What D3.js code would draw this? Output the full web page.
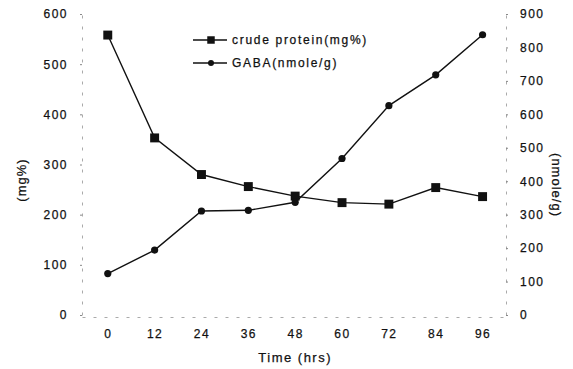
<!DOCTYPE html>
<html>
<head>
<meta charset="utf-8">
<script src="https://cdn.jsdelivr.net/npm/d3@7"></script>
<style>
  body { margin: 0; background: #fff; }
  text { font-family: "Liberation Sans", Arial, sans-serif; fill: #111; stroke: #111; stroke-width: 0.25px; }
</style>
</head>
<body>
<div id="chart"></div>
<script>
// data
const hours = [0, 12, 24, 36, 48, 60, 72, 84, 96];
const crudeProtein = [558, 353, 280, 256, 237, 224, 221, 254, 236]; // mg%
const gaba = [124, 194, 311, 313, 337, 468, 626, 718, 838];          // nmole/g
const leftTicks = [0, 100, 200, 300, 400, 500, 600];
const rightTicks = [0, 100, 200, 300, 400, 500, 600, 700, 800, 900];

const width = 573, height = 369;
const margin = { top: 14, right: 67, bottom: 54, left: 82 };

const svg = d3.select('#chart').append('svg')
  .attr('width', width)
  .attr('height', height);

const x = d3.scaleLinear().domain([-6.6, 102]).range([margin.left, width - margin.right]);
const yL = d3.scaleLinear().domain([0, 600]).range([height - margin.bottom, margin.top]);
const yR = d3.scaleLinear().domain([0, 900]).range([height - margin.bottom, margin.top]);

// faded axis lines, like the scan
const axisStyle = g => g.select('.domain').attr('stroke', '#aaa').attr('stroke-dasharray', '3,8');

svg.append('g')
  .attr('transform', `translate(${margin.left},0)`)
  .call(d3.axisLeft(yL).tickValues(leftTicks).tickSize(2).tickPadding(12).tickSizeOuter(0))
  .call(axisStyle)
  .call(g => g.selectAll('.tick line').attr('stroke', '#888'))
  .call(g => g.selectAll('.tick text').attr('font-size', 12).attr('letter-spacing', '1.5px'));

svg.append('g')
  .attr('transform', `translate(${width - margin.right},0)`)
  .call(d3.axisRight(yR).tickValues(rightTicks).tickSize(2).tickPadding(12).tickSizeOuter(0))
  .call(axisStyle)
  .call(g => g.selectAll('.tick line').attr('stroke', '#888'))
  .call(g => g.selectAll('.tick text').attr('font-size', 12).attr('letter-spacing', '1.5px'));

svg.append('g')
  .attr('transform', `translate(0,${height - margin.bottom + 2})`)
  .call(d3.axisBottom(x).tickValues(hours).tickSize(0).tickPadding(12).tickSizeOuter(0))
  .call(axisStyle)
  .call(g => g.selectAll('.tick text').attr('font-size', 12).attr('letter-spacing', '1.5px'));

// axis titles
svg.append('text')
  .attr('transform', `translate(26,180) rotate(-90)`)
  .attr('text-anchor', 'middle')
  .attr('font-size', 13)
  .attr('letter-spacing', '1px')
  .text('(mg%)');

svg.append('text')
  .attr('transform', `translate(552,185) rotate(90)`)
  .attr('text-anchor', 'middle')
  .attr('font-size', 13)
  .attr('letter-spacing', '1px')
  .text('(nmole/g)');

svg.append('text')
  .attr('x', x(48))
  .attr('y', 362)
  .attr('text-anchor', 'middle')
  .attr('font-size', 13)
  .attr('letter-spacing', '1.5px')
  .text('Time (hrs)');

// lines
const lineL = d3.line().x((d, i) => x(hours[i])).y(d => yL(d));
const lineR = d3.line().x((d, i) => x(hours[i])).y(d => yR(d));

svg.append('path')
  .datum(crudeProtein)
  .attr('d', lineL)
  .attr('fill', 'none')
  .attr('stroke', '#111')
  .attr('stroke-width', 1.4);

svg.append('path')
  .datum(gaba)
  .attr('d', lineR)
  .attr('fill', 'none')
  .attr('stroke', '#111')
  .attr('stroke-width', 1.4);

// markers
svg.selectAll('.sq')
  .data(crudeProtein)
  .enter()
  .append('path')
  .attr('d', d3.symbol(d3.symbolSquare, 80))
  .attr('transform', (d, i) => `translate(${x(hours[i])},${yL(d)})`)
  .attr('fill', '#111');

svg.selectAll('.dot')
  .data(gaba)
  .enter()
  .append('circle')
  .attr('cx', (d, i) => x(hours[i]))
  .attr('cy', d => yR(d))
  .attr('r', 3.6)
  .attr('fill', '#111');

// legend
const legend = [
  { label: 'crude protein(mg%)', symbol: 'square' },
  { label: 'GABA(nmole/g)', symbol: 'circle' }
];
legend.forEach((item, i) => {
  const ly = 40 + i * 23;
  svg.append('line')
    .attr('x1', 193).attr('x2', 227)
    .attr('y1', ly).attr('y2', ly)
    .attr('stroke', '#111').attr('stroke-width', 1.4);
  if (item.symbol === 'square') {
    svg.append('path')
      .attr('d', d3.symbol(d3.symbolSquare, 56))
      .attr('transform', `translate(211,${ly})`)
      .attr('fill', '#111');
  } else {
    svg.append('circle')
      .attr('cx', 211).attr('cy', ly).attr('r', 3)
      .attr('fill', '#111');
  }
  svg.append('text')
    .attr('x', 232)
    .attr('y', ly)
    .attr('dy', '0.35em')
    .attr('font-size', 12)
    .attr('letter-spacing', '1.7px')
    .text(item.label);
});
</script>
</body>
</html>
